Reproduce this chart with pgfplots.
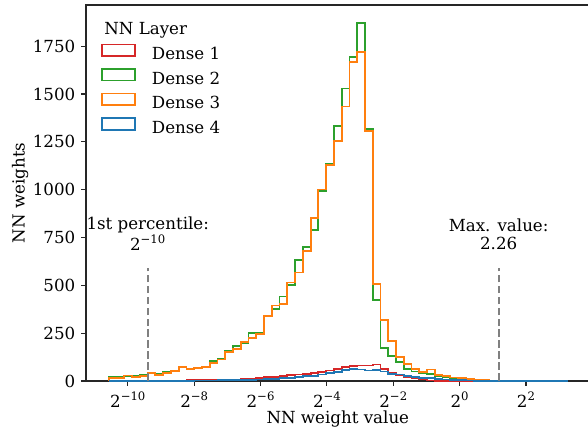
\documentclass[border=0pt,12pt]{standalone}
\usepackage{fontspec}
\setmainfont{DejaVu Serif}
\usepackage{pgfplots}
\pgfplotsset{compat=1.18}
\usepackage{pgfplotstable}
\definecolor{tabred}{HTML}{D62728}
\definecolor{tabgreen}{HTML}{2CA02C}
\definecolor{taborange}{HTML}{FF7F0E}
\definecolor{tabblue}{HTML}{1F77B4}
\newcommand{\pw}[1]{2\raisebox{0.45em}{\fontsize{8.4}{10}\selectfont #1}}

% columns: left bin edge (log2 of weight), counts for Dense 1..4
\pgfplotstableread{
x d1 d2 d3 d4
-10.572 0 0 0 0
-10.572 0 20 15 0
-10.338 0 20 15 0
-10.104 1 26 29 0
-9.870 1 26 22 1
-9.636 1 32 25 1
-9.403 2 43 43 1
-9.169 2 37 32 1
-8.935 2 45 43 2
-8.701 3 51 51 2
-8.467 3 72 72 2
-8.233 4 60 63 2
-7.999 4 69 69 3
-7.765 5 72 72 3
-7.531 5 105 92 3
-7.297 6 117 112 4
-7.064 7 155 150 4
-6.830 8 183 168 5
-6.596 9 200 202 6
-6.362 12 251 225 6
-6.128 15 251 247 8
-5.894 20 338 338 10
-5.660 22 378 395 12
-5.426 25 442 404 15
-5.192 30 503 515 15
-4.958 34 633 567 21
-4.725 38 702 680 25
-4.491 43 789 850 27
-4.257 49 992 1001 34
-4.023 55 1136 1131 43
-3.789 64 1332 1254 48
-3.555 72 1529 1435 56
-3.321 79 1692 1666 62
-3.087 81 1871 1721 60
-2.853 81 1317 1306 55
-2.619 86 424 506 57
-2.386 62 173 320 50
-2.152 40 129 207 38
-1.918 30 100 126 34
-1.684 21 62 88 28
-1.450 16 50 62 21
-1.216 12 42 48 16
-0.982 3 36 60 14
-0.748 2 26 32 11
-0.514 1 19 25 8
-0.280 1 13 18 6
-0.047 0 9 14 4
0.187 0 6 10 3
0.421 0 4 7 2
0.655 0 3 5 2
0.889 0 2 3 1
1.123 0 1 2 1
1.357 0 1 1 1
1.591 0 0 1 1
1.825 0 0 0 1
2.059 0 0 0 1
2.292 0 0 0 1
2.526 0 0 0 1
2.760 0 0 0 1
2.994 0 0 0 1
3.228 0 0 0 1
3.228 0 0 0 0
}\hist

\begin{document}
\begin{tikzpicture}
\begin{axis}[
  scale only axis,
  width=362.6pt, height=270.7pt,
  xmin=-11.26, xmax=3.917, ymin=0, ymax=1965,
  axis line style={line width=0.8pt, black!85},
  xtick pos=bottom, ytick pos=left,
  tick align=outside, major tick length=3.5pt,
  tick style={line width=0.8pt, black!85},
  xtick={-10,-8,-6,-4,-2,0,2},
  xticklabels={\pw{−10},\pw{−8},\pw{−6},\pw{−4},\pw{−2},\pw{0},\pw{2}},
  ytick={0,250,500,750,1000,1250,1500,1750},
  yticklabel style={/pgf/number format/assume math mode=true, /pgf/number format/1000 sep={}},
  xlabel={NN weight value},
  ylabel={NN weights},
  xlabel style={at={(rel axis cs:0.5,0)}, anchor=center, yshift=-27.4pt},
  ylabel style={at={(rel axis cs:0,0.5)}, anchor=center, yshift=47.5pt},
  legend cell align=left,
  legend style={at={(rel axis cs:0.0298,0.96)}, anchor=north west, draw=none, fill=none,
    inner sep=0pt, outer sep=0pt, row sep=2.4pt,
    /tikz/every odd column/.append style={column sep=9.6pt}},
]
\coordinate (SW) at (rel axis cs:0,0);
\addlegendimage{empty legend}
\addlegendentry{\hspace*{-34.3pt}NN Layer}
\addplot[const plot, tabred, line width=1.3pt,
  legend image code/.code={\draw[tabred, line width=1.1pt] (0pt,-1pt) rectangle (24pt,7.4pt);}]
  table[x=x, y=d1] {\hist};
\addlegendentry{Dense 1}
\addplot[const plot, tabgreen, line width=1.3pt,
  legend image code/.code={\draw[tabgreen, line width=1.1pt] (0pt,-1pt) rectangle (24pt,7.4pt);}]
  table[x=x, y=d2] {\hist};
\addlegendentry{Dense 2}
\addplot[const plot, taborange, line width=1.3pt,
  legend image code/.code={\draw[taborange, line width=1.1pt] (0pt,-1pt) rectangle (24pt,7.4pt);}]
  table[x=x, y=d3] {\hist};
\addlegendentry{Dense 3}
\addplot[const plot, tabblue, line width=1.3pt,
  legend image code/.code={\draw[tabblue, line width=1.1pt] (0pt,-1pt) rectangle (24pt,7.4pt);}]
  table[x=x, y=d4] {\hist};
\addlegendentry{Dense 4}
\addplot[forget plot, gray, line width=1.5pt, dash pattern=on 5.5pt off 2.4pt]
  coordinates {(-9.40,0) (-9.40,590)};
\addplot[forget plot, gray, line width=1.5pt, dash pattern=on 5.5pt off 2.4pt]
  coordinates {(1.176,0) (1.176,590)};
\node[align=center, font=\fontsize{12}{13}\selectfont] at (axis cs:-9.40,769) {1st percentile:\\\pw{−10}};
\node[align=center, font=\fontsize{12}{13}\selectfont] at (axis cs:1.176,769) {Max. value:\\2.26};
\end{axis}
\pgfresetboundingbox
\path[use as bounding box] ([xshift=-61.92pt,yshift=-34.56pt]SW) rectangle ++(423.36pt,308.88pt);
\end{tikzpicture}
\end{document}
